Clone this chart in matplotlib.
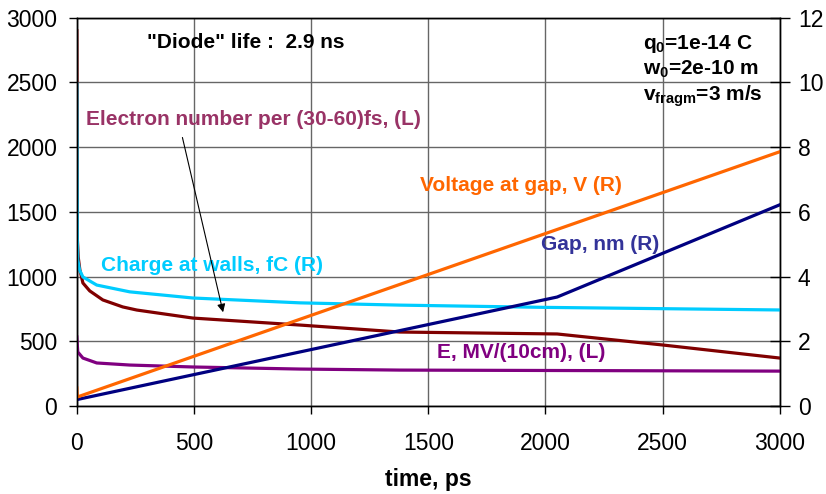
import matplotlib
matplotlib.use("Agg")
import matplotlib.pyplot as plt

plt.rcParams["font.family"] = ["Liberation Sans", "DejaVu Sans"]
plt.rcParams["mathtext.fontset"] = "custom"
plt.rcParams["mathtext.bf"] = "Liberation Sans:bold"
plt.rcParams["mathtext.rm"] = "Liberation Sans:bold"
plt.rcParams["mathtext.default"] = "bf"

# electron number per (30-60) fs, left axis
t_elec = [0, 2, 6, 13, 26, 55, 111, 196, 256, 495, 952, 1378, 2050, 2500, 3000]
elec = [2900, 1300, 1150, 1052, 951, 890, 820, 766, 742, 680, 626, 572, 557, 472, 371]

# field E, MV/(10cm), left axis
t_field = [0, 4, 26, 85, 226, 495, 952, 1378, 3000]
field = [534, 418, 371, 333, 317, 302, 286, 278, 270]

# charge at walls, fC, right axis
t_charge = [0, 2, 4, 12, 26, 85, 226, 495, 952, 1378, 2000, 3000]
charge = [9.96, 5.2, 4.52, 4.2, 3.99, 3.74, 3.53, 3.34, 3.19, 3.12, 3.05, 2.97]

# voltage at gap, V, right axis
t_volt = [0, 2, 3000]
volt = [0.56, 0.28, 7.86]

# gap, nm, right axis
t_gap = [0, 2050, 3000]
gap = [0.2, 3.37, 6.22]

fig = plt.figure(figsize=(8.26, 4.94), dpi=100)
ax = fig.add_axes([0.093, 0.178, 0.851, 0.786])
ax2 = ax.twinx()

ax.set_xlim(0, 3000)
ax.set_ylim(0, 3000)
ax2.set_ylim(0, 12)
ax.set_xticks(range(0, 3001, 500))
ax.set_yticks(range(0, 3001, 500))
ax2.set_yticks(range(0, 13, 2))

ax.grid(True, color="#666666", lw=1)
ax.set_axisbelow(True)
for a in (ax, ax2):
    for s in a.spines.values():
        s.set_color("black")
        s.set_linewidth(1)
ax.tick_params(axis="y", labelsize=16.5, direction="out", length=6, width=1, pad=8)
ax.tick_params(axis="x", labelsize=16.5, direction="out", length=6, width=1, pad=13)
ax2.tick_params(axis="y", labelsize=16.5, direction="inout", length=14, width=1, pad=6)
ax.set_xlabel("time, ps", fontsize=16.5, fontweight="bold")
ax.xaxis.set_label_coords(0.5, -0.16)

# left-axis series are drawn on the right axis scaled 3000 -> 12
ax2.plot(t_elec, [v / 250 for v in elec], color="#800000", lw=2.3)
ax2.plot(t_field, [v / 250 for v in field], color="#800080", lw=2.3)
ax2.plot(t_charge, charge, color="#00CCFF", lw=2.3)
ax2.plot(t_gap, gap, color="#000080", lw=2.3)
ax2.plot(t_volt, volt, color="#FF6600", lw=2.3)

ax2.text(0.1, 0.961, '"Diode" life :  2.9 ns', transform=ax.transAxes,
         fontsize=15, fontweight="bold", va="top")
ax2.text(0.805, 0.961, "q$_0$=1e-14 C\nw$_0$=2e-10 m\nv$_{fragm}$=3 m/s",
         transform=ax.transAxes, fontsize=15, fontweight="bold", va="top",
         linespacing=1.22)

lab = dict(fontsize=15, fontweight="bold", transform=ax.transAxes, va="center")
ax2.text(0.0128, 0.737, "Electron number per (30-60)fs, (L)", color="#993366", **lab)
ax2.text(0.034, 0.361, "Charge at walls, fC (R)", color="#00CCFF", **lab)
ax2.text(0.488, 0.567, "Voltage at gap, V (R)", color="#FF6600", **lab)
ax2.text(0.660, 0.415, "Gap, nm (R)", color="#333399", **lab)
ax2.text(0.512, 0.139, "E, MV/(10cm), (L)", color="#800080", **lab)

ax2.annotate("", xy=(627, 704), xycoords=ax.transData,
             xytext=(448, 2096), textcoords=ax.transData,
             arrowprops=dict(arrowstyle="-|>", color="black", lw=0.8,
                             mutation_scale=12))

fig.savefig("out.png", dpi=100)
